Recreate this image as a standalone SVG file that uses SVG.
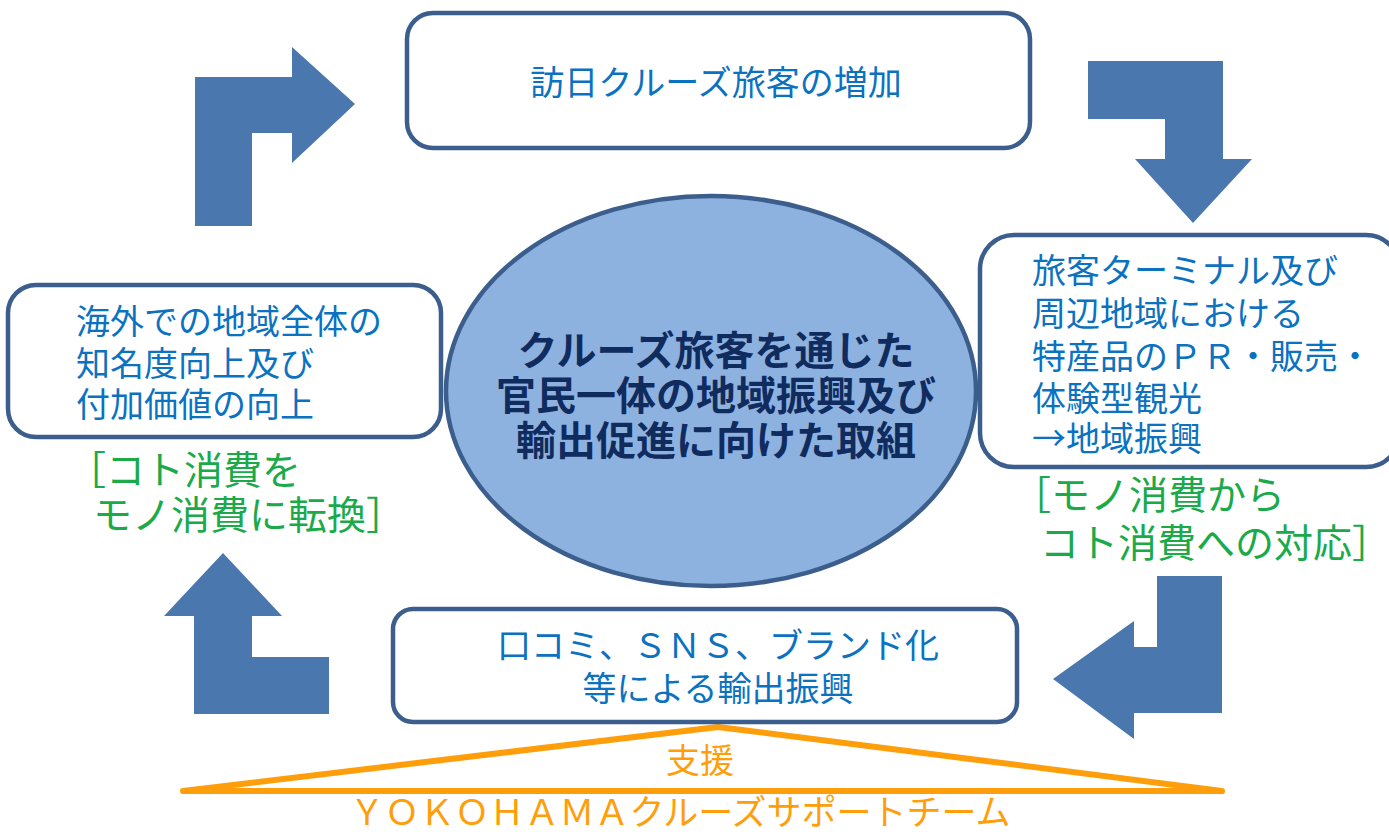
<svg xmlns="http://www.w3.org/2000/svg" width="1389" height="834" viewBox="0 0 1389 834">
<style>
.box{fill:#fff;stroke:#3B5E8C;stroke-width:4.5}
.arw{fill:#4B77AF}
.t{font-family:"Noto Sans CJK JP","Noto Sans",sans-serif;font-size:34px;fill:#0B72C1}
.g{font-family:"Noto Sans CJK JP","Noto Sans",sans-serif;font-size:39px;fill:#1AAA4A}
.c{font-family:"Noto Sans CJK JP","Noto Sans",sans-serif;font-size:40px;font-weight:bold;fill:#102C5E;text-anchor:middle}
.o{font-family:"Noto Sans CJK JP","Noto Sans",sans-serif;fill:#FF9E0B;text-anchor:middle}
</style>
<rect width="1389" height="834" fill="#fff"/>
<g id="connectors">
<polygon class="arw" points="195,226 195,77 292,77 292,47 355,104 292,163 292,133 252,133 252,226"/>
<polygon class="arw" points="1088,61 1223,61 1223,159 1252,159 1193,223 1135,159 1165,159 1165,119 1088,119"/>
<polygon class="arw" points="1157,576 1222,576 1222,713 1134,713 1134,739 1053,679 1134,621 1134,647 1157,647"/>
<polygon class="arw" points="223,553 282,616 252,616 252,657 329,657 329,714 194,714 194,616 164,616"/>
<polyline points="183,791 718,727 1222,791 183,791" fill="none" stroke="#FF9E0B" stroke-width="6" stroke-linejoin="round" stroke-linecap="round"/>
</g>
<g id="center">
<ellipse cx="711" cy="391" rx="265" ry="195" fill="#8EB2E0" stroke="#3B5E8C" stroke-width="4.5"/>
<text class="c" x="716" y="365">クルーズ旅客を通じた</text>
<text class="c" x="716" y="410">官民一体の地域振興及び</text>
<text class="c" x="716" y="455">輸出促進に向けた取組</text>
</g>
<g id="top">
<rect class="box" x="407" y="13" width="623" height="135" rx="26"/>
<text class="t" x="716" y="95" text-anchor="middle">訪日クルーズ旅客の増加</text>
</g>
<g id="right">
<rect class="box" x="980" y="235" width="420" height="232" rx="34"/>
<text class="t" x="1032" y="283">旅客ターミナル及び</text>
<text class="t" x="1032" y="326">周辺地域における</text>
<text class="t" x="1032" y="369">特産品のＰＲ・販売・</text>
<text class="t" x="1032" y="411">体験型観光</text>
<text class="t" x="1032" y="451">→地域振興</text>
<text class="g" x="1012" y="509">［モノ消費から</text>
<text class="g" x="1040" y="557">コト消費への対応］</text>
</g>
<g id="bottom">
<rect class="box" x="393" y="609" width="624" height="113" rx="20"/>
<text class="t" x="718" y="658" text-anchor="middle">口コミ、ＳＮＳ、ブランド化</text>
<text class="t" x="718" y="701" text-anchor="middle">等による輸出振興</text>
</g>
<g id="left">
<rect class="box" x="8" y="285" width="433" height="152" rx="28"/>
<text class="t" x="76" y="334">海外での地域全体の</text>
<text class="t" x="76" y="376">知名度向上及び</text>
<text class="t" x="76" y="417">付加価値の向上</text>
<text class="g" x="67" y="484">［コト消費を</text>
<text class="g" x="93" y="529">モノ消費に転換］</text>
</g>
<g id="support">
<text class="o" x="700" y="773" font-size="34">支援</text>
<text class="o" x="680" y="825" font-size="35">ＹＯＫＯＨＡＭＡクルーズサポートチーム</text>
</g>
</svg>
